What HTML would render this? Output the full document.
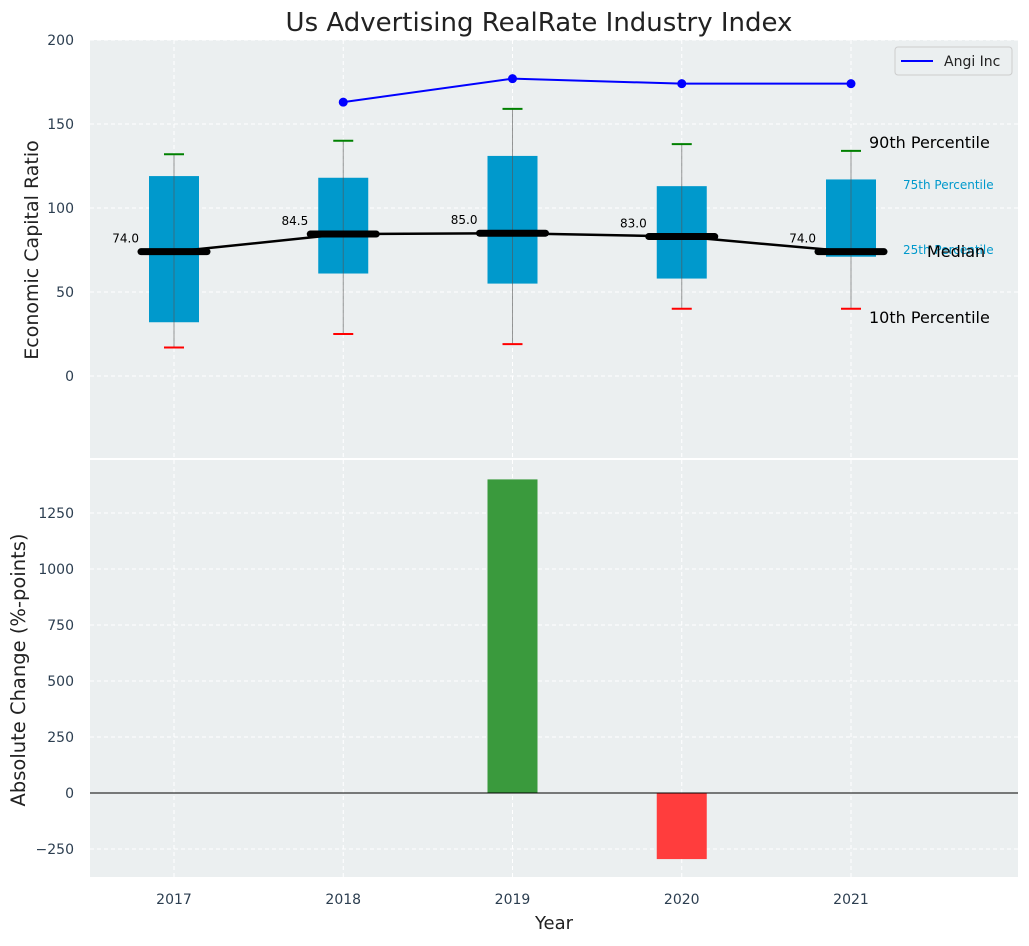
<!DOCTYPE html>
<html><head><meta charset="utf-8">
<style>
body{margin:0;background:#fff;font-family:"DejaVu Sans","Liberation Sans",sans-serif;}
svg text{font-family:"DejaVu Sans","Liberation Sans",sans-serif;}
</style></head>
<body>
<svg id="c" width="1029" height="942" xmlns="http://www.w3.org/2000/svg"></svg>
<script>
const years=[2017,2018,2019,2020,2021];
const p10=[17,25,19,40,40];
const q1=[32,61,55,58,71];
const med=[74,84.5,85,83,74];
const q3=[119,118,131,113,117];
const p90=[132,140,159,138,134];
const angiYears=[2018,2019,2020,2021];
const angi=[163,177,174,174];
const changes=[0,0,1400,-295,0];
const topTicks=[0,50,100,150,200];
const botTicks=[-250,0,250,500,750,1000,1250];

const svg=document.getElementById('c');
const NS='http://www.w3.org/2000/svg';
function el(t,a,txt){const e=document.createElementNS(NS,t);for(const k in a)e.setAttribute(k,a[k]);if(txt!==undefined)e.textContent=txt;svg.appendChild(e);return e;}
const X=y=>174+(y-2017)*169.25;
const Y1=v=>376-v*1.68;
const Y2=v=>793-v*0.224;

let e=el('rect',{x:90,y:40,width:928,height:418,fill:'#ebeff0'});

e=el('rect',{x:90,y:460,width:928,height:417,fill:'#ebeff0'});


years.forEach(y=>{
 el('line',{x1:X(y),x2:X(y),y1:40,y2:458,stroke:'#fff','stroke-dasharray':'4,3','stroke-width':1});
 el('line',{x1:X(y),x2:X(y),y1:460,y2:877,stroke:'#fff','stroke-dasharray':'4,3','stroke-width':1});
 e=el('text',{x:X(y),y:904,'font-size':14,fill:'#2c3e50','text-anchor':'middle'},y);
 
});
topTicks.forEach(t=>{
 el('line',{x1:90,x2:1018,y1:Y1(t),y2:Y1(t),stroke:'#fff','stroke-dasharray':'4,3'});
 e=el('text',{x:74,y:Y1(t)+5,'font-size':14,fill:'#2c3e50','text-anchor':'end'},t);
 
});
botTicks.forEach(t=>{
 el('line',{x1:90,x2:1018,y1:Y2(t),y2:Y2(t),stroke:'#fff','stroke-dasharray':'4,3'});
 e=el('text',{x:74,y:Y2(t)+5,'font-size':14,fill:'#2c3e50','text-anchor':'end'},t<0?'\u2212'+(-t):t);
 
});

years.forEach((y,i)=>{
 const x=X(y);
 e=el('rect',{x:x-25,y:Y1(q3[i]),width:50,height:Y1(q1[i])-Y1(q3[i]),fill:'#0099cc'});
 
 el('line',{x1:x,x2:x,y1:Y1(p10[i]),y2:Y1(p90[i]),stroke:'#555','stroke-width':1,'stroke-opacity':0.6});
 e=el('line',{x1:x-10,x2:x+10,y1:Y1(p90[i]),y2:Y1(p90[i]),stroke:'green','stroke-width':2});
 
 e=el('line',{x1:x-10,x2:x+10,y1:Y1(p10[i]),y2:Y1(p10[i]),stroke:'red','stroke-width':2});
 
});
e=el('polyline',{points:years.map((y,i)=>X(y)+','+Y1(med[i])).join(' '),fill:'none',stroke:'#000','stroke-width':2.5});

years.forEach((y,i)=>{
 e=el('line',{x1:X(y)-33,x2:X(y)+33,y1:Y1(med[i]),y2:Y1(med[i]),stroke:'#000','stroke-width':7,'stroke-linecap':'round'});
 
 e=el('text',{x:X(y)-35,y:Y1(med[i])-9,'font-size':12,fill:'#000','text-anchor':'end'},med[i].toFixed(1));
 
});
e=el('polyline',{points:angiYears.map((y,i)=>X(y)+','+Y1(angi[i])).join(' '),fill:'none',stroke:'blue','stroke-width':2});

angiYears.forEach((y,i)=>{e=el('circle',{cx:X(y),cy:Y1(angi[i]),r:4.5,fill:'blue'});
 });

const ann=[['90th Percentile',869,148,16,'#000'],['75th Percentile',903,189,12,'#0099cc'],['25th Percentile',903,254,12,'#0099cc'],['Median',927,257,16,'#000'],['10th Percentile',869,323,16,'#000']];
ann.forEach(a=>{e=el('text',{x:a[1],y:a[2],'font-size':a[3],fill:a[4]},a[0]);
 });

e=el('rect',{x:895,y:47,width:117,height:28,rx:3,fill:'#ebeff0',stroke:'#ccc'});

el('line',{x1:901,x2:933,y1:61,y2:61,stroke:'blue','stroke-width':2});
e=el('text',{x:944,y:66,'font-size':14,fill:'#222'},'Angi Inc');


years.forEach((y,i)=>{const v=changes[i];if(v===0)return;
 e=el('rect',{x:X(y)-25,y:Math.min(Y2(v),Y2(0)),width:50,height:Math.abs(Y2(v)-Y2(0)),fill:v>0?'#3a9a3d':'#ff3d3d'});
 });
el('line',{x1:90,x2:1018,y1:Y2(0),y2:Y2(0),stroke:'#000','stroke-width':1});

e=el('text',{x:539,y:31,'font-size':26,fill:'#222','text-anchor':'middle'},'Us Advertising RealRate Industry Index');

e=el('text',{x:554,y:929,'font-size':18,fill:'#222','text-anchor':'middle'},'Year');

e=el('text',{x:0,y:0,'font-size':19,fill:'#222','text-anchor':'middle',transform:'translate(38,250) rotate(-90)'},'Economic Capital Ratio');

e=el('text',{x:0,y:0,'font-size':19.5,fill:'#222','text-anchor':'middle',transform:'translate(25,670) rotate(-90)'},'Absolute Change (%-points)');

</script>
</body></html>
